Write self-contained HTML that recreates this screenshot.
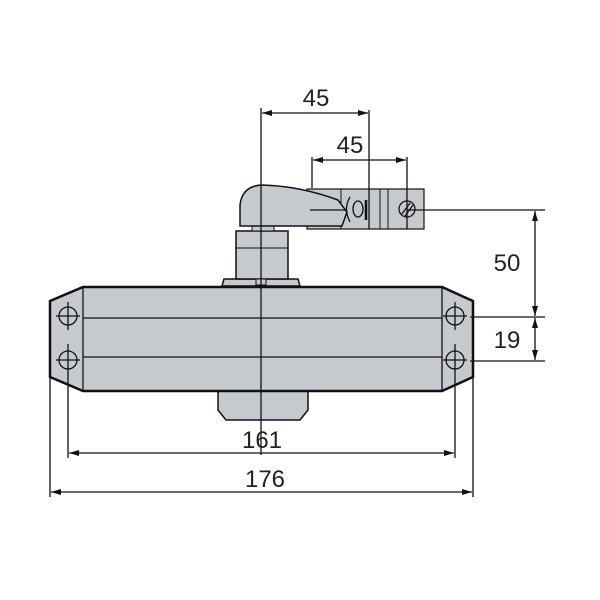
<!DOCTYPE html>
<html><head><style>body{margin:0;background:#fff}svg{display:block}</style></head><body>
<svg width="600" height="600" viewBox="0 0 600 600" xmlns="http://www.w3.org/2000/svg" font-family="Liberation Sans, sans-serif">
<defs>
<marker id="a" viewBox="0 0 10 6" refX="10" refY="3" markerWidth="11" markerHeight="6" orient="auto-start-reverse" markerUnits="userSpaceOnUse"><path d="M0,0L10,3L0,6z" fill="#111"/></marker>
</defs>
<g fill="#c6cacf" stroke="#111" stroke-width="2">
<path d="M218,391 L308,391 L308,410 L300,420 L226,420 L218,410 Z" stroke-width="1.5"/>
<path d="M222,286 L224,279 L298,279 L300,286 Z" stroke-width="1.5"/>
<rect x="236" y="231" width="52" height="48" stroke-width="1.5"/>
<line x1="236" y1="248" x2="288" y2="248" stroke-width="1"/>
<rect x="256" y="279" width="10" height="6" stroke-width="1"/>
<rect x="252" y="226" width="22" height="5" stroke-width="1"/>
<rect x="307" y="189" width="117" height="40" stroke-width="1.2"/>
<line x1="341" y1="189" x2="341" y2="229" stroke-width="1"/>
<line x1="380" y1="189" x2="380" y2="229" stroke-width="1"/>
<line x1="388" y1="189" x2="388" y2="229" stroke-width="1"/>
<path d="M244,226 L342,226 L347,212 L338,200 Q300,186 262,185 Q242,186 240,205 L240,226 Z" stroke-width="1.5"/>
<path d="M50,301 L83,287 L442,287 L473,301 L473,377 L442,391 L83,391 L50,377 Z" stroke-width="2.5"/>
</g>
<g stroke="#111" fill="none" stroke-width="1.3">
<line x1="83" y1="287" x2="83" y2="391"/>
<line x1="442" y1="287" x2="442" y2="391"/>
<line x1="83" y1="318" x2="442" y2="318"/>
<line x1="83" y1="357" x2="442" y2="357"/>
<circle cx="68" cy="316" r="9"/><circle cx="68" cy="360" r="9"/>
<circle cx="455" cy="316" r="9"/><circle cx="455" cy="360" r="9"/>
<line x1="56" y1="316" x2="80" y2="316"/><line x1="56" y1="360" x2="80" y2="360"/>
<line x1="443" y1="316" x2="467" y2="316"/><line x1="443" y1="360" x2="467" y2="360"/>
<line x1="68" y1="302" x2="68" y2="330"/>
<line x1="455" y1="302" x2="455" y2="330"/>
<path d="M350,197 Q343,209 350,222" /><ellipse cx="358" cy="209" rx="5" ry="8"/>
<line x1="366" y1="200" x2="366" y2="220" stroke-width="2.5"/>
<circle cx="407" cy="209" r="8"/><line x1="402" y1="214" x2="410" y2="203"/><line x1="405" y1="216" x2="413" y2="205"/>
<line x1="310" y1="210" x2="345" y2="210"/>
<line x1="261" y1="108" x2="261" y2="455"/>
<line x1="369" y1="110" x2="369" y2="229"/>
<line x1="312" y1="157" x2="312" y2="188"/>
<line x1="407" y1="157" x2="407" y2="229"/>
<line x1="262" y1="113" x2="368" y2="113" marker-start="url(#a)" marker-end="url(#a)"/>
<line x1="313" y1="160" x2="406" y2="160" marker-start="url(#a)" marker-end="url(#a)"/>
<line x1="407" y1="210" x2="545" y2="210"/>
<line x1="470" y1="317" x2="545" y2="317"/>
<line x1="470" y1="361" x2="545" y2="361"/>
<line x1="535" y1="211" x2="535" y2="316" marker-start="url(#a)" marker-end="url(#a)"/>
<line x1="535" y1="318" x2="535" y2="360" marker-start="url(#a)" marker-end="url(#a)"/>
<line x1="68" y1="344" x2="68" y2="458"/><line x1="455" y1="344" x2="455" y2="458"/>
<line x1="50" y1="377" x2="50" y2="497"/><line x1="473" y1="377" x2="473" y2="497"/>
<line x1="69" y1="453" x2="454" y2="453" marker-start="url(#a)" marker-end="url(#a)"/>
<line x1="51" y1="492" x2="472" y2="492" marker-start="url(#a)" marker-end="url(#a)"/>
</g>
<g font-size="24" fill="#222" text-anchor="middle">
<text x="316" y="106">45</text>
<text x="350" y="153">45</text>
<text x="507" y="271">50</text>
<text x="507" y="348">19</text>
<text x="262" y="448">161</text>
<text x="265" y="487">176</text>
</g>
</svg>
</body></html>
